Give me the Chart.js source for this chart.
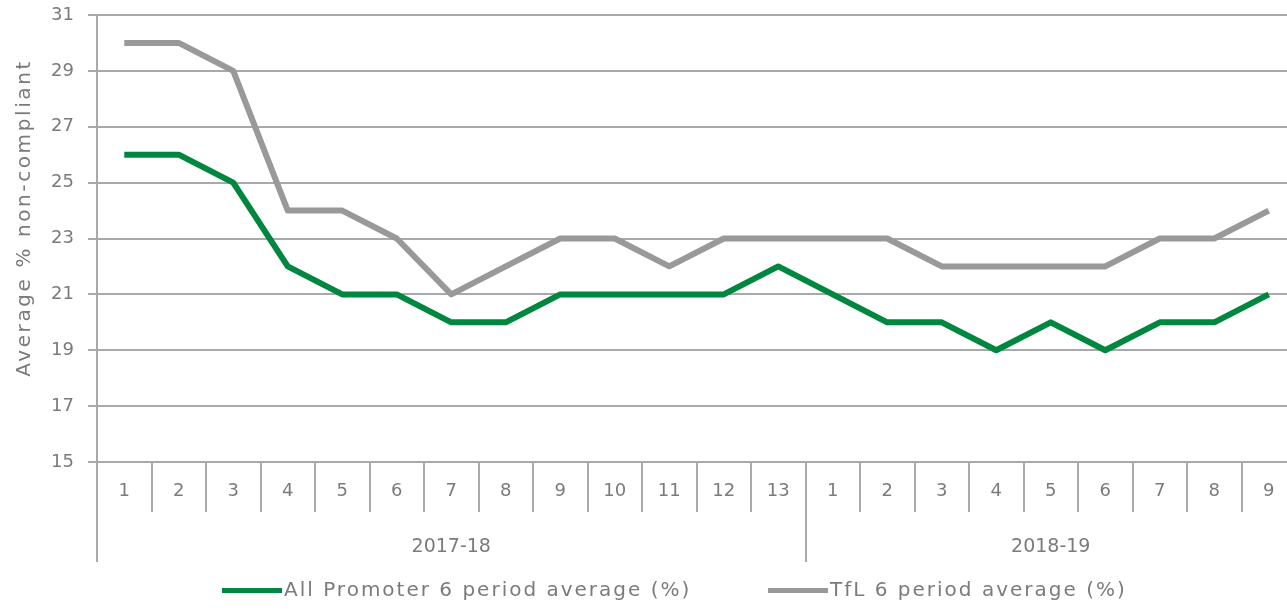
<!DOCTYPE html>
<html><head><meta charset="utf-8">
<script src="https://cdn.jsdelivr.net/npm/chart.js@4/dist/chart.umd.min.js"></script>
<style>html,body{margin:0;padding:0;overflow:hidden;background:#fff}#wrap{width:1300px;height:614px;position:relative}</style>
</head><body><div id="wrap"><canvas id="c" width="1300" height="614"></canvas></div>
<script>
const periods = ['1','2','3','4','5','6','7','8','9','10','11','12','13','1','2','3','4','5','6','7','8','9'];
const years = ['2017-18','2018-19'];
const yearSpans = [13, 9];
const promoter = [26,26,25,22,21,21,20,20,21,21,21,21,22,21,20,20,19,20,19,20,20,21];
const tfl = [30,30,29,24,24,23,21,22,23,23,22,23,23,23,23,22,22,22,22,23,23,24];
const yTicks = [15,17,19,21,23,25,27,29,31];
const seriesNames = ['All Promoter 6 period average (%)','TfL 6 period average (%)'];
const yTitle = 'Average % non-compliant';

const FONT = 'DejaVu Sans';
const TXT = '#7b7b7b';
const GRID = '#a9a9a9';
const GREEN = '#00873f';
const GREY = '#999999';

const extras = {
  id:'extras',
  afterDraw(chart){
    const ctx = chart.ctx, ca = chart.chartArea, xs = chart.scales.x;
    const bottomY = Math.round(xs.top + 100);
    ctx.save();
    ctx.strokeStyle = GRID; ctx.lineWidth = 2;
    ctx.beginPath();
    const lx = Math.round(ca.left);
    ctx.moveTo(lx, ca.bottom); ctx.lineTo(lx, bottomY);
    let idx = 0; const bounds = [ca.left];
    yearSpans.forEach((n)=>{
      idx += n;
      if (idx < periods.length) {
        const sx = (xs.getPixelForValue(idx-1) + xs.getPixelForValue(idx))/2;
        bounds.push(sx);
        const rx = Math.round(sx);
        ctx.moveTo(rx, ca.bottom); ctx.lineTo(rx, bottomY);
      }
    });
    bounds.push(ca.right);
    ctx.stroke();
    // year labels
    ctx.fillStyle = TXT; ctx.font = '19px "'+FONT+'"';
    ctx.textAlign = 'center'; ctx.textBaseline = 'middle';
    years.forEach((y,i)=>{ ctx.fillText(y, (bounds[i]+bounds[i+1])/2, 547); });
    // y title
    ctx.font = '20px "'+FONT+'"';
    if ('letterSpacing' in ctx) ctx.letterSpacing = '2.6px';
    ctx.save();
    ctx.translate(25, 218); ctx.rotate(-Math.PI/2);
    ctx.fillText(yTitle, 0, 0);
    ctx.restore();
    // legend
    const starts = [222, 768];
    const ds = chart.data.datasets;
    seriesNames.forEach((name,i)=>{
      const d = ds.find(s=>s.label===name);
      const x0 = starts[i];
      ctx.fillStyle = d.borderColor;
      ctx.fillRect(x0, 588, 60, 5);
      ctx.fillStyle = TXT; ctx.textAlign = 'left';
      if ('letterSpacing' in ctx) ctx.letterSpacing = '2px';
      ctx.fillText(name, x0 + 62, 591);
    });
    ctx.restore();
  }
};

new Chart(document.getElementById('c'), {
  type:'line',
  data:{
    labels: periods,
    datasets:[
      {label: seriesNames[1], data: tfl, borderColor: GREY, backgroundColor: GREY},
      {label: seriesNames[0], data: promoter, borderColor: GREEN, backgroundColor: GREEN}
    ]
  },
  options:{
    responsive:false, animation:false,
    layout:{padding:{top:15,left:0,right:4,bottom:52}},
    plugins:{legend:{display:false}, tooltip:{enabled:false}},
    elements:{point:{radius:0}, line:{borderWidth:6, tension:0, borderJoinStyle:'round', borderCapStyle:'butt', fill:false}},
    scales:{
      x:{type:'category', offset:true,
        grid:{offset:true, drawOnChartArea:false, drawTicks:true, tickLength:50, color:GRID, lineWidth:2},
        border:{display:false},
        ticks:{color:TXT, font:{family:FONT, size:18}, padding:-31, maxRotation:0, autoSkip:false},
        afterFit(s){ s.height = 100; s.paddingLeft = 0; s.paddingRight = 0; }
      },
      y:{min:15, max:31,
        afterBuildTicks(s){ s.ticks = yTicks.map(v=>({value:v})); },
        grid:{color:GRID, lineWidth:2, tickLength:9},
        border:{color:GRID, width:2},
        ticks:{color:TXT, font:{family:FONT, size:18}, padding:14},
        afterFit(s){ s.width = 97; s.paddingTop = 0; s.paddingBottom = 0; }
      }
    }
  },
  plugins:[extras]
});
</script></body></html>
